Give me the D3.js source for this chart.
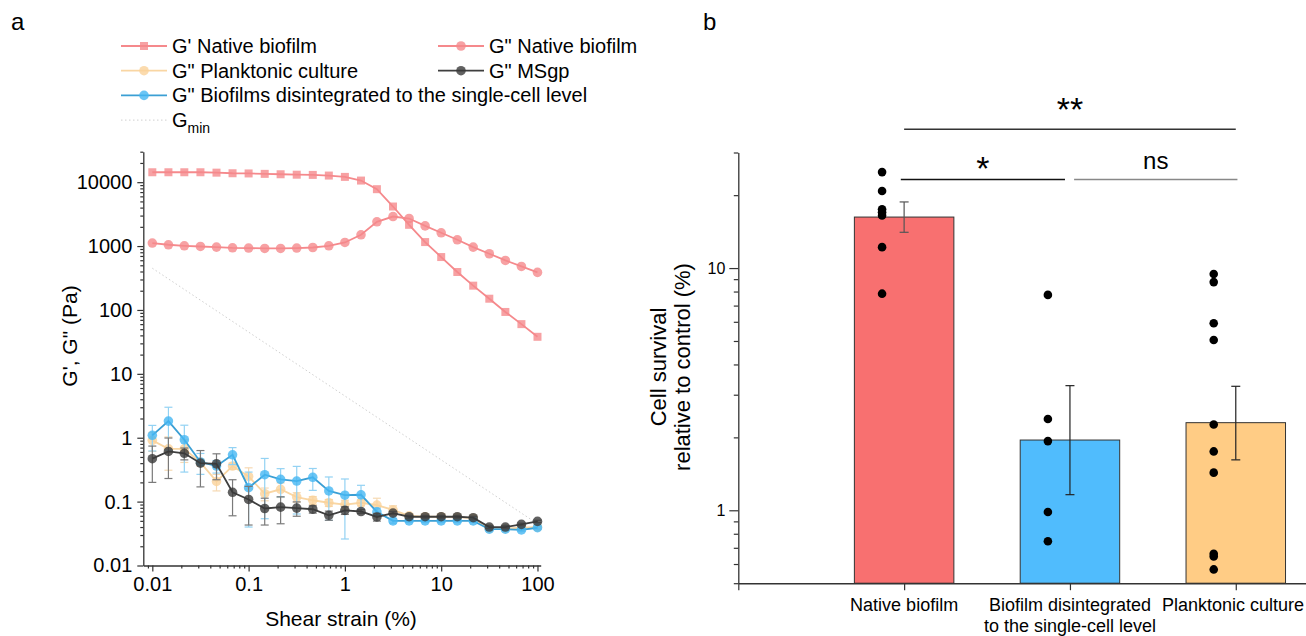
<!DOCTYPE html>
<html>
<head>
<meta charset="utf-8">
<script src="https://cdn.jsdelivr.net/npm/d3@7"></script>
<style>
  body { margin: 0; background: #fff; }
  svg { display: block; font-family: "Liberation Sans", Arial, sans-serif; }
</style>
</head>
<body>
<div id="chart"></div>
<script>
// ---- Panel a: amplitude sweep ----
const strainPct = [0.01, 0.0147, 0.0215, 0.0316, 0.0464, 0.0681, 0.1, 0.147, 0.215, 0.316, 0.464, 0.681,
  1, 1.47, 2.15, 3.16, 4.64, 6.81, 10, 14.7, 21.5, 31.6, 46.4, 68.1, 100];
const gPrimeNative = [14300, 14300, 14300, 14300, 14100, 13800, 13700, 13500, 13300, 13100, 13000, 12700,
  12100, 10600, 7770, 4160, 2150, 1155, 673, 393, 240, 150, 93, 60, 38];
const gDoubleNative = [1114, 1048, 1010, 985, 963, 940, 930, 917, 917, 930, 950, 1010,
  1138, 1503, 2400, 2900, 2700, 2070, 1615, 1254, 963, 758, 596, 480, 387];
const gDoublePlank = [0.91, 0.67, 0.67, 0.41, 0.207, 0.36, 0.248, 0.133, 0.156, 0.118, 0.105, 0.096,
  0.09, 0.096, 0.088, 0.074, 0.06, 0.058, 0.058, 0.057, 0.055, 0.038, 0.038, 0.039, 0.04];
const errPlank = [0.3, 0.36, 0.26, 0.05, 0.06, 0.04, 0.09, 0.03, 0.04, 0.02, 0.015, 0.012,
  0.015, 0.01, 0.025, 0.012, 0.003, 0.003, 0.003, 0.003, 0.003, 0.002, 0.002, 0.002, 0.002];
const gDoubleSingle = [1.09, 1.82, 0.93, 0.417, 0.36, 0.54, 0.165, 0.264, 0.223, 0.21, 0.24, 0.147,
  0.126, 0.128, 0.069, 0.05, 0.05, 0.05, 0.05, 0.05, 0.05, 0.037, 0.037, 0.036, 0.039];
const errSingle = [0.47, 1.18, 0.64, 0.15, 0.08, 0.16, 0.125, 0.21, 0.105, 0.146, 0.09, 0.096,
  0.1, 0.052, 0.01, 0.004, 0.003, 0.003, 0.003, 0.003, 0.003, 0.002, 0.002, 0.002, 0.002];
const gDoubleMSgp = [0.47, 0.61, 0.57, 0.4, 0.39, 0.14, 0.108, 0.078, 0.082, 0.079, 0.076, 0.061,
  0.073, 0.07, 0.0575, 0.066, 0.058, 0.058, 0.058, 0.058, 0.056, 0.04, 0.04, 0.044, 0.049];
const errMSgp = [0.27, 0.38, 0.12, 0.23, 0.17, 0.08, 0.065, 0.035, 0.037, 0.02, 0.01, 0.01,
  0.01, 0.005, 0.008, 0.004, 0.003, 0.003, 0.003, 0.003, 0.003, 0.002, 0.002, 0.002, 0.002];
const gMinStrain = [0.01, 100];
const gMinValues = [450, 0.045];
const xTicksA = [0.01, 0.1, 1, 10, 100];
const yTicksA = [0.01, 0.1, 1, 10, 100, 1000, 10000];

// ---- Panel b: cell survival ----
const groups = ["Native biofilm", "Biofilm disintegrated|to the single-cell level", "Planktonic culture"];
const survivalMean = [16.24, 1.95, 2.3];
const survivalLow = [14.05, 1.16, 1.615];
const survivalHigh = [18.75, 3.27, 3.25];
const dotsNative = [24.9, 20.8, 17.5, 17.0, 16.5, 12.2, 7.84];
const dotsSingle = [7.75, 2.38, 1.93, 0.984, 0.745];
const dotsPlank = [9.45, 8.75, 5.92, 5.05, 2.26, 1.75, 1.43, 0.662, 0.645, 0.57];
const yTicksB = [1, 10];
const sigLabels = ["**", "*", "ns"];
const sigFrom = [1, 0.98, 2.025];
const sigTo = [3, 1.97, 3.01];
const sigLevel = [37.4, 23.2, 23.2];

const W = 1306, H = 636;
const svg = d3.select("#chart").append("svg").attr("width", W).attr("height", H);

function minorLogTicks(lo, hi) {
  const out = [];
  for (let e = Math.floor(Math.log10(lo)); e <= Math.ceil(Math.log10(hi)); e++) {
    for (let m = 2; m <= 9; m++) {
      const v = m * Math.pow(10, e);
      if (v >= lo && v <= hi) out.push(v);
    }
  }
  return out;
}

function styleAxis(g, fontSize) {
  g.selectAll("path.domain").attr("stroke", "#333").attr("stroke-width", 1.3);
  g.selectAll(".tick line").attr("stroke", "#333").attr("stroke-width", 1.2);
  g.selectAll("text").attr("fill", "#000").style("font-size", fontSize + "px")
    .style("font-family", '"Liberation Sans", Arial, sans-serif');
}

function panelA() {
  const x = d3.scaleLog().domain([0.00806, 108]).range([143.3, 540.7]);
  const y = d3.scaleLog().domain([0.01, 30000]).range([565.5, 151.7]);
  const g = svg.append("g");
  const fmt = d3.format("~g");

  // axes
  const xAx = g.append("g").attr("transform", `translate(0,${y.range()[0]})`)
    .call(d3.axisBottom(x).tickValues(xTicksA).tickFormat(fmt).tickSize(6).tickSizeOuter(0).tickPadding(5));
  styleAxis(xAx, 20);
  const xMin = g.append("g").attr("transform", `translate(0,${y.range()[0]})`)
    .call(d3.axisBottom(x).tickValues(minorLogTicks(0.00806, 108)).tickFormat("").tickSize(3).tickSizeOuter(0));
  styleAxis(xMin, 20);
  xMin.select("path.domain").remove();

  const yAx = g.append("g").attr("transform", `translate(${x.range()[0]},0)`)
    .call(d3.axisLeft(y).tickValues(yTicksA).tickFormat(fmt).tickSize(6).tickSizeOuter(0).tickPadding(5));
  styleAxis(yAx, 20);
  const yMin = g.append("g").attr("transform", `translate(${x.range()[0]},0)`)
    .call(d3.axisLeft(y).tickValues(minorLogTicks(0.01, 30000)).tickFormat("").tickSize(3).tickSizeOuter(0));
  styleAxis(yMin, 20);
  yMin.select("path.domain").remove();

  g.append("text").attr("x", 341).attr("y", 626).attr("text-anchor", "middle")
    .style("font-size", "21px").text("Shear strain (%)");
  g.append("text").attr("transform", "translate(77,336) rotate(-90)").attr("text-anchor", "middle")
    .style("font-size", "21px").text('G\', G" (Pa)');

  // G min
  g.append("path")
    .attr("d", d3.line().x((d) => x(d[0])).y((d) => y(d[1]))(gMinStrain.map((s, i) => [s, gMinValues[i]])))
    .attr("fill", "none").attr("stroke", "#cfcfcf").attr("stroke-width", 1).attr("stroke-dasharray", "1.5,2.5");

  const series = [
    { vals: gPrimeNative, err: null, line: "#f5898c", fill: "#f5898c", shape: d3.symbolSquare, size: 64 },
    { vals: gDoubleNative, err: null, line: "#f5898c", fill: "#f5898c", shape: d3.symbolCircle, size: 72 },
    { vals: gDoublePlank, err: errPlank, line: "#f9d6a3", fill: "#fad29a", errCol: "#f6d9b3", shape: d3.symbolCircle, size: 72 },
    { vals: gDoubleSingle, err: errSingle, line: "#3b9fd4", fill: "#45b7f2", errCol: "#93d2f3", shape: d3.symbolCircle, size: 72 },
    { vals: gDoubleMSgp, err: errMSgp, line: "#3f3f3f", fill: "#3a3a3a", errCol: "#7a7a7a", shape: d3.symbolCircle, size: 72 }
  ];

  const yMinVal = y.domain()[0];
  series.forEach((s) => {
    const pts = strainPct.map((st, i) => ({ x: st, v: s.vals[i], e: s.err ? s.err[i] : 0 }));
    if (s.err) {
      const eg = g.append("g").attr("stroke", s.errCol).attr("stroke-width", 1.2);
      pts.forEach((p) => {
        const y0 = y(Math.max(p.v - p.e, yMinVal)), y1 = y(p.v + p.e), cx = x(p.x);
        eg.append("line").attr("x1", cx).attr("x2", cx).attr("y1", y0).attr("y2", y1);
        eg.append("line").attr("x1", cx - 4).attr("x2", cx + 4).attr("y1", y0).attr("y2", y0);
        eg.append("line").attr("x1", cx - 4).attr("x2", cx + 4).attr("y1", y1).attr("y2", y1);
      });
    }
    g.append("path")
      .attr("d", d3.line().x((d) => x(d.x)).y((d) => y(d.v))(pts))
      .attr("fill", "none").attr("stroke", s.line).attr("stroke-width", 1.8);
    g.selectAll(null).data(pts).enter().append("path")
      .attr("d", d3.symbol().type(s.shape).size(s.size))
      .attr("transform", (d) => `translate(${x(d.x)},${y(d.v)})`)
      .attr("fill", s.fill).attr("fill-opacity", 0.8);
  });

  // legend
  const legendItems = [
    { label: "G' Native biofilm", s: series[0], col: 0, row: 0 },
    { label: 'G" Native biofilm', s: series[1], col: 1, row: 0 },
    { label: 'G" Planktonic culture', s: series[2], col: 0, row: 1 },
    { label: 'G" MSgp', s: series[4], col: 1, row: 1 },
    { label: 'G" Biofilms disintegrated to the single-cell level', s: series[3], col: 0, row: 2 }
  ];
  const colX = [121, 438];
  const rowY = (r) => 46 + r * 24.7;
  legendItems.forEach((it) => {
    const x0 = colX[it.col], yy = rowY(it.row);
    g.append("line").attr("x1", x0).attr("x2", x0 + 46).attr("y1", yy).attr("y2", yy)
      .attr("stroke", it.s.line).attr("stroke-width", 1.8);
    g.append("path").attr("d", d3.symbol().type(it.s.shape).size(it.s.size))
      .attr("transform", `translate(${x0 + 23},${yy})`).attr("fill", it.s.fill).attr("fill-opacity", 0.8);
    g.append("text").attr("x", x0 + 51).attr("y", yy + 7).style("font-size", "20px").text(it.label);
  });
  const gy = rowY(3);
  g.append("line").attr("x1", colX[0]).attr("x2", colX[0] + 46).attr("y1", gy).attr("y2", gy)
    .attr("stroke", "#cfcfcf").attr("stroke-width", 1).attr("stroke-dasharray", "1.5,2.5");
  const gt = g.append("text").attr("x", colX[0] + 51).attr("y", gy + 7).style("font-size", "20px");
  gt.append("tspan").text("G");
  gt.append("tspan").attr("dy", 6).style("font-size", "14px").text("min");
}

function panelB() {
  const x = d3.scaleLinear().domain([0, 4]).range([738.3, 1401.6]);
  const y = d3.scaleLog().domain([0.5, 30]).range([583.2, 152.5]);
  const g = svg.append("g");
  const unit = x(1) - x(0);
  const barW = 0.6 * unit;

  // bars
  const barCols = ["#f87070", "#50bcfd", "#ffcc85"];
  g.selectAll(null).data(survivalMean).enter().append("rect")
    .attr("x", (d, i) => x(i + 1) - barW / 2)
    .attr("width", barW)
    .attr("y", (d) => y(d))
    .attr("height", (d) => y(0.5) - y(d))
    .attr("fill", (d, i) => barCols[i])
    .attr("stroke", "#333").attr("stroke-width", 1);

  // error bars
  survivalMean.forEach((m, i) => {
    const cx = x(i + 1), y0 = y(survivalLow[i]), y1 = y(survivalHigh[i]);
    const eg = g.append("g").attr("stroke", i === 0 ? "#555" : "#222").attr("stroke-width", 1.2);
    eg.append("line").attr("x1", cx).attr("x2", cx).attr("y1", y0).attr("y2", y1);
    eg.append("line").attr("x1", cx - 4.5).attr("x2", cx + 4.5).attr("y1", y0).attr("y2", y0);
    eg.append("line").attr("x1", cx - 4.5).attr("x2", cx + 4.5).attr("y1", y1).attr("y2", y1);
  });

  // individual points
  [dotsNative, dotsSingle, dotsPlank].forEach((dots, i) => {
    g.selectAll(null).data(dots).enter().append("circle")
      .attr("cx", x(i + 1 - 0.133)).attr("cy", (d) => y(d)).attr("r", 4.3).attr("fill", "#000");
  });

  // axes
  const xAx = g.append("g").attr("transform", `translate(0,${y.range()[0]})`)
    .call(d3.axisBottom(x).tickValues([0, 1, 2, 3]).tickFormat("").tickSize(7).tickSizeOuter(0));
  styleAxis(xAx, 18);
  xAx.select("path.domain").attr("stroke-width", 1.6);
  groups.forEach((name, i) => {
    const lines = name.split("|");
    const t = g.append("text").attr("x", x(i + 1)).attr("y", 611).attr("text-anchor", "middle").style("font-size", "18px");
    lines.forEach((ln, k) => {
      t.append("tspan").attr("x", x(i + 1)).attr("dy", k === 0 ? 0 : 21).text(ln);
    });
    // keep the last label inside the picture
    const box = t.node().getBBox();
    const over = box.x + box.width - (W - 2);
    if (over > 0) t.selectAll("tspan").attr("x", x(i + 1) - over);
  });

  const yAx = g.append("g").attr("transform", `translate(${x(0)},0)`)
    .call(d3.axisLeft(y).tickValues(yTicksB).tickFormat(d3.format("~g")).tickSize(9).tickSizeOuter(0).tickPadding(4));
  styleAxis(yAx, 16);
  const yMin = g.append("g").attr("transform", `translate(${x(0)},0)`)
    .call(d3.axisLeft(y).tickValues(minorLogTicks(0.5, 30)).tickFormat("").tickSize(4.5).tickSizeOuter(0));
  styleAxis(yMin, 16);
  yMin.select("path.domain").remove();

  g.append("text").attr("transform", "translate(666,367) rotate(-90)").attr("text-anchor", "middle")
    .style("font-size", "22px").text("Cell survival");
  g.append("text").attr("transform", "translate(690,367) rotate(-90)").attr("text-anchor", "middle")
    .style("font-size", "22px").text("relative to control (%)");

  // significance brackets
  const sigCol = ["#333", "#111", "#888"];
  const sigOff = [8, 0, 11];
  const sigSize = [34, 34, 24];
  sigLabels.forEach((lab, i) => {
    const yy = y(sigLevel[i]);
    g.append("line").attr("x1", x(sigFrom[i])).attr("x2", x(sigTo[i])).attr("y1", yy).attr("y2", yy)
      .attr("stroke", sigCol[i]).attr("stroke-width", 1.4);
    g.append("text").attr("x", x((sigFrom[i] + sigTo[i]) / 2)).attr("y", yy - sigOff[i])
      .attr("text-anchor", "middle").style("font-size", sigSize[i] + "px").text(lab);
  });
}

panelA();
panelB();

svg.append("text").attr("x", 11).attr("y", 30).style("font-size", "24px").text("a");
svg.append("text").attr("x", 703).attr("y", 30).style("font-size", "24px").text("b");
</script>
</body>
</html>
